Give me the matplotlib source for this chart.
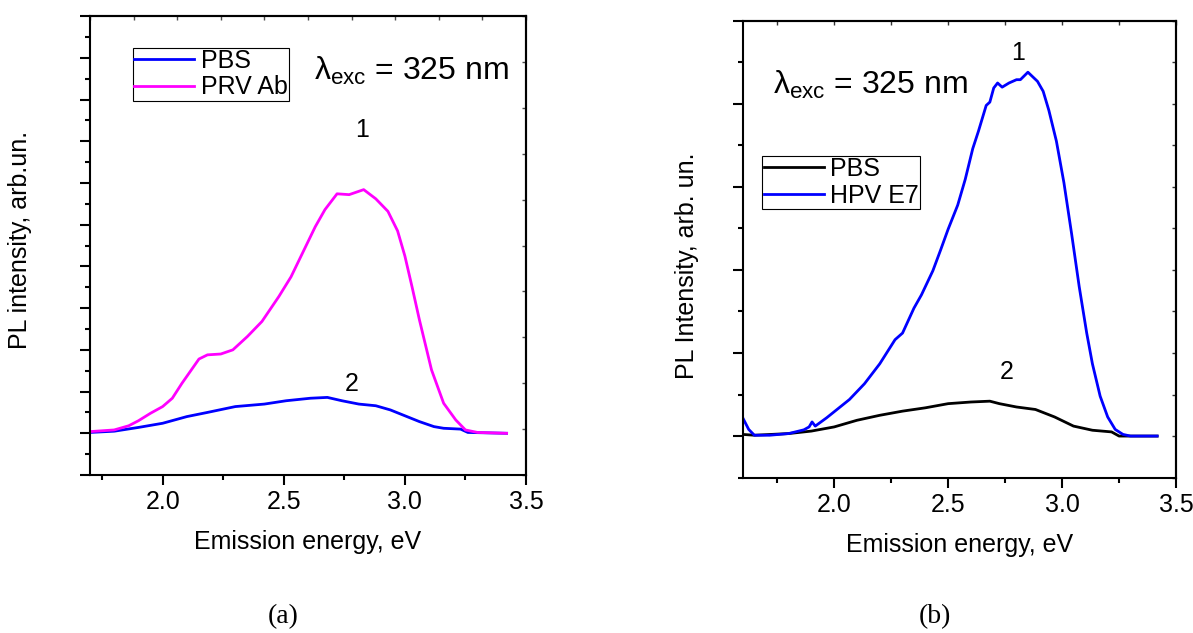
"""
PL spectra of the sensor in PBS and after antibody / protein adsorption.
"""
import matplotlib
matplotlib.use("Agg")
import matplotlib.pyplot as plt

# --- DATA --- #

# (a) PBS / PRV Ab
a_pbs_x = [1.70, 1.80, 1.90, 2.00, 2.10, 2.185, 2.30, 2.42, 2.51, 2.61, 2.68, 2.74,
           2.81, 2.88, 2.94, 3.00, 3.06, 3.12, 3.16, 3.23, 3.26, 3.42]
a_pbs_y = [0.02, 0.05, 0.14, 0.24, 0.40, 0.50, 0.64, 0.70, 0.78, 0.84, 0.86, 0.78,
           0.70, 0.66, 0.56, 0.42, 0.28, 0.16, 0.12, 0.10, 0.02, 0.0]

a_prv_x = [1.70, 1.80, 1.86, 1.90, 1.95, 2.00, 2.04, 2.08, 2.15, 2.185, 2.24, 2.29,
           2.35, 2.41, 2.48, 2.53, 2.58, 2.63, 2.67, 2.72, 2.77, 2.83, 2.88, 2.93,
           2.97, 3.00, 3.03, 3.06, 3.11, 3.16, 3.21, 3.25, 3.30, 3.42]
a_prv_y = [0.04, 0.08, 0.18, 0.30, 0.48, 0.64, 0.84, 1.20, 1.78, 1.88, 1.90, 2.00,
           2.32, 2.68, 3.28, 3.75, 4.35, 4.95, 5.36, 5.74, 5.72, 5.84, 5.62, 5.32,
           4.85, 4.25, 3.50, 2.72, 1.52, 0.72, 0.32, 0.08, 0.02, 0.0]

# (b) PBS / HPV E7
b_pbs_x = [1.597, 1.65, 1.80, 1.90, 2.00, 2.10, 2.20, 2.30, 2.40, 2.50, 2.60, 2.683,
           2.725, 2.80, 2.883, 2.967, 3.05, 3.133, 3.217, 3.25, 3.417]
b_pbs_y = [0.02, 0.01, 0.03, 0.06, 0.11, 0.19, 0.25, 0.30, 0.34, 0.39, 0.41, 0.42,
           0.39, 0.35, 0.32, 0.23, 0.12, 0.07, 0.05, 0.0, 0.0]

b_hpv_x = [1.597, 1.625, 1.65, 1.717, 1.80, 1.867, 1.89, 1.903, 1.917, 1.967, 2.017,
           2.067, 2.133, 2.20, 2.267, 2.30, 2.35, 2.383, 2.433, 2.467, 2.50, 2.542,
           2.575, 2.608, 2.633, 2.667, 2.683, 2.70, 2.717, 2.737, 2.767, 2.80, 2.817,
           2.85, 2.892, 2.917, 2.942, 2.975, 3.008, 3.042, 3.075, 3.108, 3.133, 3.167,
           3.20, 3.233, 3.267, 3.30, 3.417]
b_hpv_y = [0.23, 0.08, 0.01, 0.01, 0.03, 0.075, 0.11, 0.17, 0.12, 0.22, 0.33,
           0.44, 0.63, 0.87, 1.16, 1.24, 1.54, 1.70, 1.99, 2.24, 2.49, 2.78,
           3.09, 3.46, 3.67, 3.98, 4.02, 4.19, 4.25, 4.20, 4.25, 4.29, 4.29,
           4.38, 4.27, 4.15, 3.92, 3.55, 3.05, 2.43, 1.80, 1.24, 0.87, 0.48,
           0.23, 0.08, 0.02, 0.0, 0.0]

x_ticks = [2.0, 2.5, 3.0, 3.5]
x_tick_labels = ["2.0", "2.5", "3.0", "3.5"]
lambda_text = r"$\lambda_{\rm exc}$ = 325 nm"

# --- STYLE --- #

plt.rcParams["font.family"] = ["Liberation Sans", "DejaVu Sans"]
plt.rcParams["mathtext.fontset"] = "custom"
plt.rcParams["mathtext.rm"] = "Liberation Sans"
plt.rcParams["mathtext.it"] = "Liberation Sans"
plt.rcParams["mathtext.bf"] = "Liberation Sans:bold"

LW = 2.0
SPINE_W = 1.5


def style_axes(ax, xlim, ylim):
    ax.set_xticks(x_ticks)
    ax.set_xticklabels(x_tick_labels)
    ax.set_xticks([t + 0.25 for t in [1.5] + x_ticks[:-1]], minor=True)
    ax.set_yticks(range(int(ylim[0]), int(ylim[1]) + 1))
    ax.set_yticks([v + 0.5 for v in range(int(ylim[0]) - 1, int(ylim[1]) + 1)], minor=True)
    ax.set_ylim(*ylim)
    ax.set_xlim(*xlim)
    ax.tick_params(axis="both", which="major", direction="out", length=7, width=1.5,
                   labelsize=18, pad=4, top=False, right=False)
    ax.tick_params(axis="both", which="minor", direction="out", length=3.5, width=1.5,
                   top=False, right=False)
    ax.tick_params(axis="y", labelleft=False)
    for sp in ax.spines.values():
        sp.set_linewidth(SPINE_W)


def add_legend(ax, anchor):
    leg = ax.legend(loc="upper left", bbox_to_anchor=anchor, borderaxespad=0,
                    fontsize=18, handlelength=2.4, handletextpad=0.25,
                    labelspacing=0.1, borderpad=0.05, fancybox=False,
                    framealpha=1, edgecolor="black")
    leg.get_frame().set_linewidth(0.8)


fig = plt.figure(figsize=(11.93, 6.33), dpi=100)

# --- PANEL (a) --- #

ax_a = fig.add_axes([0.0754, 0.2496, 0.3655, 0.725])
ax_a.plot(a_pbs_x, a_pbs_y, color="#0000FF", lw=LW, label="PBS")
ax_a.plot(a_prv_x, a_prv_y, color="#FF00FF", lw=LW, label="PRV Ab")
style_axes(ax_a, (1.7, 3.5), (-1, 10))
add_legend(ax_a, (0.099, 0.931))

# Origin's linked axes: faint inward ticks on a different scale
sec_r = ax_a.secondary_yaxis("right", functions=(lambda y: (y + 1) * 10 / 11 - 1,
                                                  lambda r: (r + 1) * 11 / 10 - 1))
sec_r.set_yticks(range(-1, 10))
sec_r.tick_params(direction="in", length=3, width=1, color="0.3", labelright=False)
sec_t = ax_a.secondary_xaxis("top", functions=(lambda x: (x - 1.7) / 1.8 * 10,
                                                lambda t: t * 1.8 / 10 + 1.7))
sec_t.set_xticks(range(0, 11))
sec_t.tick_params(direction="in", length=3, width=1, color="0.3", labeltop=False)
for s in (sec_r, sec_t):
    for sp in s.spines.values():
        sp.set_linewidth(SPINE_W)

ax_a.text(0.513, 0.8606, lambda_text, transform=ax_a.transAxes, fontsize=23,
          va="baseline", ha="left")
ax_a.text(2.823, 7.27, "1", fontsize=18, ha="center", va="center")
ax_a.text(2.782, 1.18, "2", fontsize=18, ha="center", va="center")

ax_a.set_xlabel("Emission energy, eV", fontsize=18)
ax_a.xaxis.set_label_coords(0.5, -0.146)
ax_a.xaxis.label.set_va("center")
ax_a.set_ylabel("PL intensity, arb.un.", fontsize=18)
ax_a.yaxis.set_label_coords(-0.16, 0.512)
ax_a.yaxis.label.set_va("center")

# --- PANEL (b) --- #

ax_b = fig.add_axes([0.6228, 0.2455, 0.363, 0.7218])
ax_b.plot(b_pbs_x, b_pbs_y, color="black", lw=LW, label="PBS")
ax_b.plot(b_hpv_x, b_hpv_y, color="#0000FF", lw=LW, label="HPV E7")
style_axes(ax_b, (1.6, 3.5), (-0.5, 5))
add_legend(ax_b, (0.045, 0.704))

sec_rb = ax_b.secondary_yaxis("right")
sec_rb.set_yticks([v * 0.5 for v in range(-1, 11)])
sec_rb.tick_params(direction="in", length=3, width=1, color="0.2", labelright=False)
sec_tb = ax_b.secondary_xaxis("top")
sec_tb.set_xticks([1.75, 2.0, 2.25, 2.5, 2.75, 3.0, 3.25, 3.5])
sec_tb.tick_params(direction="in", length=3, width=1, color="0.2", labeltop=False)
for s in (sec_rb, sec_tb):
    for sp in s.spines.values():
        sp.set_linewidth(SPINE_W)

ax_b.text(0.069, 0.84, lambda_text, transform=ax_b.transAxes, fontsize=23,
          va="baseline", ha="left")
ax_b.text(2.808, 4.61, "1", fontsize=18, ha="center", va="center")
ax_b.text(2.758, 0.77, "2", fontsize=18, ha="center", va="center")

ax_b.set_xlabel("Emission energy, eV", fontsize=18)
ax_b.xaxis.set_label_coords(0.5, -0.1475)
ax_b.xaxis.label.set_va("center")
ax_b.set_ylabel("PL Intensity, arb. un.", fontsize=18)
ax_b.yaxis.set_label_coords(-0.129, 0.464)
ax_b.yaxis.label.set_va("center")

# --- PANEL LETTERS --- #

fig.text(283 / 1193, 1 - 617 / 633, "(a)", fontsize=20, ha="center", va="center",
         family=["Liberation Serif", "DejaVu Serif"])
fig.text(935 / 1193, 1 - 617 / 633, "(b)", fontsize=20, ha="center", va="center",
         family=["Liberation Serif", "DejaVu Serif"])

fig.savefig("out.png", dpi=100)
